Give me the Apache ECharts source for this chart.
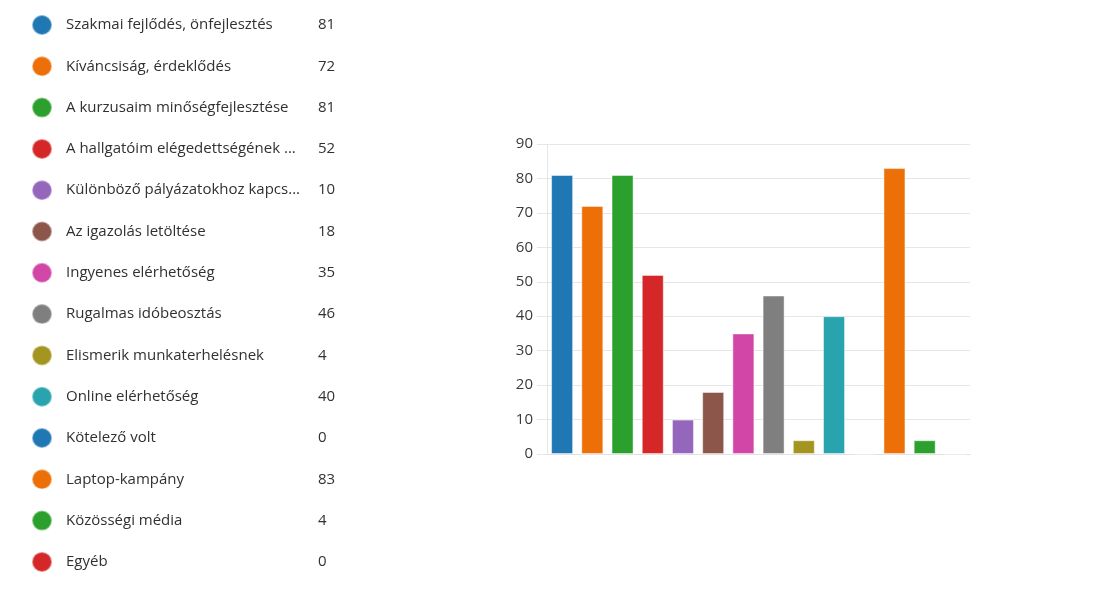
<!DOCTYPE html>
<html>
<head>
<meta charset="utf-8">
<script src="https://cdn.jsdelivr.net/npm/echarts@6/dist/echarts.min.js"></script>
<style>
html,body{margin:0;padding:0;background:#fff;}
#chart{width:1107px;height:598px;}
</style>
</head>
<body>
<div id="chart"></div>
<script>
const categories = [
  "Szakmai fejlődés, önfejlesztés",
  "Kíváncsiság, érdeklődés",
  "A kurzusaim minőségfejlesztése",
  "A hallgatóim elégedettségének ...",
  "Különböző pályázatokhoz kapcs...",
  "Az igazolás letöltése",
  "Ingyenes elérhetőség",
  "Rugalmas idóbeosztás",
  "Elismerik munkaterhelésnek",
  "Online elérhetőség",
  "Kötelező volt",
  "Laptop-kampány",
  "Közösségi média",
  "Egyéb"
];
const values = [81, 72, 81, 52, 10, 18, 35, 46, 4, 40, 0, 83, 4, 0];
const colors = ["#1f77b4", "#ec7007", "#2ca02c", "#d62728", "#9467bd", "#8c564b", "#d246a7",
  "#7f7f7f", "#a39520", "#29a3ad", "#1f77b4", "#ec7007", "#2ca02c", "#d62728"];
const yTicks = [0, 10, 20, 30, 40, 50, 60, 70, 80, 90];

const FONT = '"Segoe UI", "Open Sans", "Noto Sans", sans-serif';
const chart = echarts.init(document.getElementById('chart'), null, {renderer: 'canvas'});

const series = categories.map((name, i) => ({
  name: name,
  type: 'bar',
  stack: 'all',
  barWidth: 22,
  itemStyle: {color: colors[i], borderColor: 'rgba(255,255,255,0.45)', borderWidth: 1},
  emphasis: {disabled: true},
  data: categories.map((_, j) => j === i ? values[i] : '-')
}));

chart.setOption({
  animation: false,
  color: colors,
  textStyle: {fontFamily: FONT},
  legend: {
    orient: 'vertical',
    left: 26,
    top: 9,
    height: 585,
    itemWidth: 20,
    itemHeight: 20,
    itemGap: 19.3,
    icon: 'circle',
    selectedMode: false,
    data: categories,
    formatter: function (name) {
      const idx = categories.indexOf(name);
      return '{n|' + name + '}{v|' + values[idx] + '}';
    },
    textStyle: {
      fontFamily: FONT,
      rich: {
        n: {width: 252, padding: [0, 0, 0, 9], fontSize: 15, color: '#323130', fontFamily: FONT, lineHeight: 20},
        v: {fontSize: 15, color: '#323130', fontFamily: FONT, lineHeight: 20}
      }
    }
  },
  grid: {left: 547, right: 137, top: 144, bottom: 144},
  xAxis: {
    type: 'category',
    data: categories,
    axisLine: {show: true, lineStyle: {color: '#e1e1e1'}},
    axisTick: {show: false},
    axisLabel: {show: false},
    splitLine: {show: false}
  },
  yAxis: {
    type: 'value',
    min: yTicks[0],
    max: yTicks[yTicks.length - 1],
    interval: 10,
    axisLine: {show: true, lineStyle: {color: '#e6e6e6'}},
    axisTick: {show: true, length: 10, lineStyle: {color: '#e6e6e6'}},
    axisLabel: {fontSize: 15, color: '#3b3b3b', margin: 14, fontFamily: FONT},
    splitLine: {show: true, lineStyle: {color: '#e6e6e6'}}
  },
  series: series
});
</script>
</body>
</html>
